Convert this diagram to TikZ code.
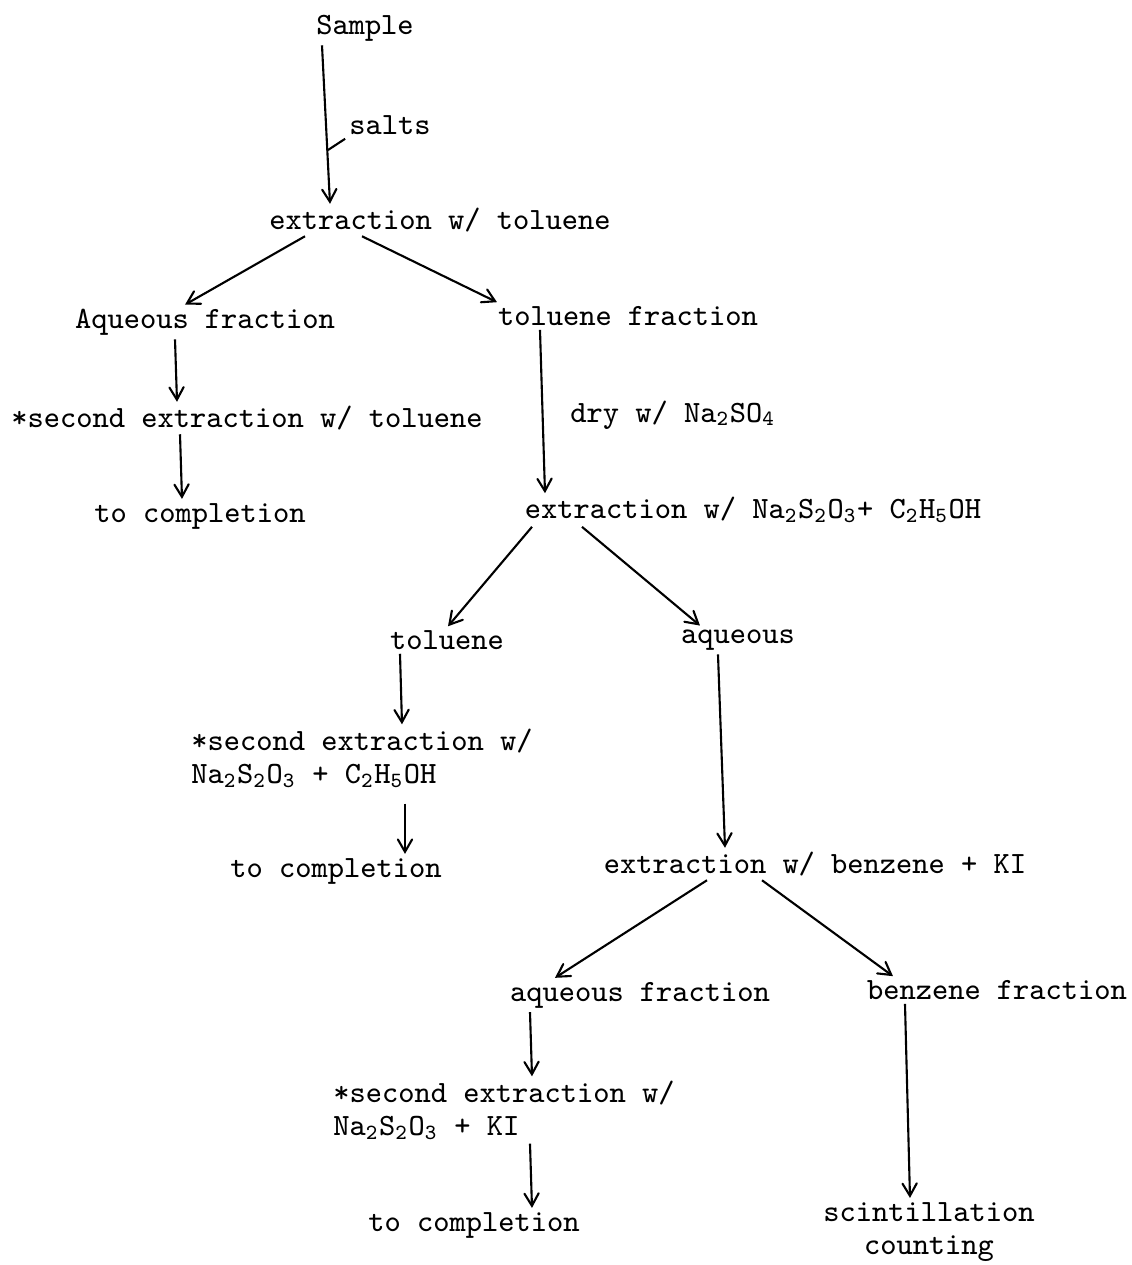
\documentclass[tikz,border=0pt]{standalone}
\usepackage{tikz}
\usetikzlibrary{arrows,calc}

\begin{document}
\begin{tikzpicture}[x=0.01cm,y=-0.01cm,>=angle 60,
	every node/.style={font=\ttfamily\fontsize{8.8}{9.6}\selectfont,inner sep=1pt},
	flow/.style={->,semithick}]
	\useasboundingbox (0,0) rectangle (1132,1265);

	% top of the chart
	\node (sample) at (365,28) {Sample};
	\node (salts) at (390,125) {salts};
	\node (ext1) at (440,220) {extraction w/ toluene};
	\coordinate (join) at (328,150);

	% left branch
	\node (aq1) at (205,322) {Aqueous fraction};
	\node (sec1) at (247,418) {*second extraction w/ toluene};
	\node (done1) at (200,516) {to completion};

	% right branch
	\node (tol1) at (628,316) {toluene fraction};
	\node (dry) at (673,415) {dry w/ Na\textsubscript{2}SO\textsubscript{4}};
	\node (ext2) at (753,510) {extraction w/ Na\textsubscript{2}S\textsubscript{2}O\textsubscript{3}+ C\textsubscript{2}H\textsubscript{5}OH};

	\node (tol2) at (447,640) {toluene};
	\node[align=left] (sec2) at (362,758) {*second extraction w/\\Na\textsubscript{2}S\textsubscript{2}O\textsubscript{3} + C\textsubscript{2}H\textsubscript{5}OH};
	\node (done2) at (336,871) {to completion};

	\node (aq2) at (738,640) {aqueous};
	\node (ext3) at (815,864) {extraction w/ benzene + KI};

	\node (aq3) at (640,995) {aqueous fraction};
	\node[align=left] (sec3) at (504,1110) {*second extraction w/\\Na\textsubscript{2}S\textsubscript{2}O\textsubscript{3} + KI};
	\node (done3) at (474,1225) {to completion};

	\node (benz) at (997,990) {benzene fraction};
	\node[align=center] (scint) at (929,1232) {scintillation\\counting};

	% connectors
	\draw[flow] ($(sample.south)+(-43,0)$) -- ($(ext1.north)+(-110,0)$);
	\draw[semithick] (salts.south west) -- (join);
	\draw[flow] ($(ext1.south)+(-135,0)$) -- ($(aq1.north)+(-20,0)$);
	\draw[flow] ($(ext1.south)+(-78,0)$) -- ($(tol1.north)+(-131,0)$);
	\draw[flow] ($(aq1.south)+(-30,0)$) -- ($(sec1.north)+(-70,0)$);
	\draw[flow] ($(sec1.south)+(-67,0)$) -- ($(done1.north)+(-18,0)$);
	\draw[flow] ($(tol1.south)+(-88,0)$) -- ($(ext2.north)+(-208,0)$);
	\draw[flow] ($(ext2.south)+(-221,0)$) -- ($(tol2.north)+(1,0)$);
	\draw[flow] ($(ext2.south)+(-171,0)$) -- ($(aq2.north)+(-38,0)$);
	\draw[flow] ($(tol2.south)+(-47,0)$) -- ($(sec2.north)+(40,0)$);
	\draw[flow] ($(sec2.south)+(43,12)$) -- ($(done2.north)+(69,0)$);
	\draw[flow] ($(aq2.south)+(-20,0)$) -- ($(ext3.north)+(-90,0)$);
	\draw[flow] ($(ext3.south)+(-108,0)$) -- ($(aq3.north)+(-85,0)$);
	\draw[flow] ($(ext3.south)+(-53,0)$) -- ($(benz.north)+(-104,0)$);
	\draw[flow] ($(aq3.south)+(-110,0)$) -- ($(sec3.north)+(28,0)$);
	\draw[flow] ($(sec3.south)+(26,0)$) -- ($(done3.north)+(58,0)$);
	\draw[flow] ($(benz.south)+(-92,0)$) -- ($(scint.north)+(-19,0)$);
\end{tikzpicture}
\end{document}
